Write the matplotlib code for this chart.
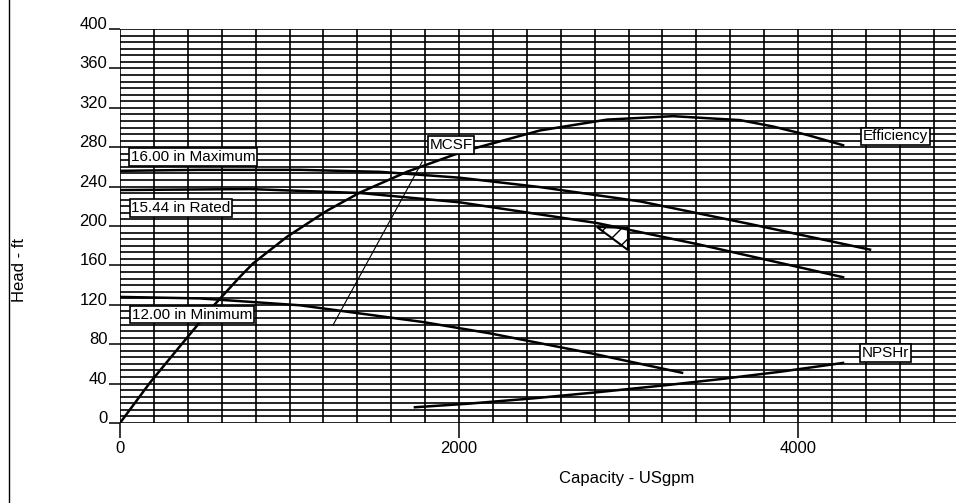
import numpy as np
import matplotlib
matplotlib.use("Agg")
import matplotlib.pyplot as plt
from matplotlib.lines import Line2D
from matplotlib.patches import Polygon
from matplotlib.transforms import ScaledTranslation

plt.rcParams["font.family"] = ["Liberation Sans", "DejaVu Sans"]
plt.rcParams["hatch.linewidth"] = 1.0

# -------------------------------------------------------------------------
# DATA
# -------------------------------------------------------------------------
# 16.00 in impeller - maximum
max_q = [0, 472, 1062, 1534, 2006, 2478, 3068, 3717, 4425]
max_h = [256, 257, 257, 255, 249, 239.5, 225, 202, 176]

# 15.44 in impeller - rated
rated_q = [0, 767, 1416, 2006, 2814, 3422, 4266]
rated_h = [236.5, 237.5, 233.5, 224, 203, 181, 148]

# 12.00 in impeller - minimum
min_q = [0, 472, 1062, 1788, 2183, 2773, 3316]
min_h = [128, 126.5, 119.5, 102.5, 91, 71, 51]

# efficiency (drawn on the head scale)
eff_q = [0, 177, 354, 549, 708, 785, 985, 1221, 1416, 1693, 1965, 2083,
         2478, 2873, 3263, 3658, 3853, 4053, 4266]
eff_h = [0, 41, 78, 118.5, 148.5, 162, 189, 215.5, 234, 255, 272, 278.5,
         297, 308, 311.5, 307.5, 301, 292.5, 282]

# NPSH required
npsh_q = [1740, 2047, 2437, 2832, 3227, 3540, 3894, 4266]
npsh_h = [16, 19.5, 25, 31.5, 38.5, 44.5, 52, 61]

# minimum continuous stable flow marker line
mcsf_q = [1257, 1782]
mcsf_h = [99.5, 265]

# duty point triangle
duty_q = [2814, 2997, 2997]
duty_h = [199, 198, 175.6]

# curve labels: text, x, y
labels = [
    ("16.00 in Maximum", 431, 270),
    ("15.44 in Rated", 360, 218),
    ("12.00 in Minimum", 425, 110),
    ("MCSF", 1953, 282),
    ("Efficiency", 4573, 291),
    ("NPSHr", 4514, 71),
]

x_ticks = [0, 2000, 4000]
y_ticks = list(range(0, 401, 40))

# -------------------------------------------------------------------------
# FIGURE
# -------------------------------------------------------------------------
W, H = 956, 503
fig = plt.figure(figsize=(W / 100, H / 100), dpi=100)
ax = fig.add_axes([120 / W, 80 / H, 847.5 / W, 394 / H])

ax.set_xlim(0, 5000)
ax.set_ylim(0, 400)

# grid: every 200 gpm, 60 divisions in head
ax.set_xticks(x_ticks)
ax.set_xticks(np.arange(0, 5001, 200), minor=True)
ax.set_yticks(y_ticks)
ax.set_yticks(np.linspace(0, 400, 61), minor=True)
ax.grid(which="both", color="black", linewidth=1.2)
ax.set_axisbelow(True)
for s in ax.spines.values():
    s.set_visible(False)

ax.tick_params(which="minor", length=0)
ax.tick_params(axis="x", which="major", length=11, width=1.1, pad=2,
               labelsize=12)
ax.tick_params(axis="y", which="major", length=8, width=1.1, pad=1,
               labelsize=12)
shift = ScaledTranslation(0, 0.06, fig.dpi_scale_trans)
for lab in ax.get_yticklabels():
    lab.set_transform(lab.get_transform() + shift)

lw = 1.8
for q, h in [(max_q, max_h), (rated_q, rated_h), (min_q, min_h),
             (eff_q, eff_h), (npsh_q, npsh_h)]:
    ax.plot(q, h, color="black", lw=lw, solid_joinstyle="round")
ax.plot(mcsf_q, mcsf_h, color="black", lw=0.8)

tri = Polygon(np.column_stack([duty_q, duty_h]), closed=True,
              facecolor="white", edgecolor="black", lw=1.5, hatch="//")
ax.add_patch(tri)

for txt, x, y in labels:
    ax.text(x, y, txt, ha="center", va="center", fontsize=11,
            bbox=dict(boxstyle="square,pad=0.12", fc="white", ec="black",
                      lw=1.2))

fig.text(627 / W, 1 - 478 / H, "Capacity - USgpm", ha="center",
         va="center", fontsize=12)
fig.text(20 / W, 1 - 270 / H, "Head - ft", ha="center", va="center",
         rotation=90, fontsize=12)

fig.add_artist(Line2D([8.5 / W, 8.5 / W], [0, 1], color="black", lw=1.0,
                      transform=fig.transFigure))

fig.savefig("out.png", dpi=100)
